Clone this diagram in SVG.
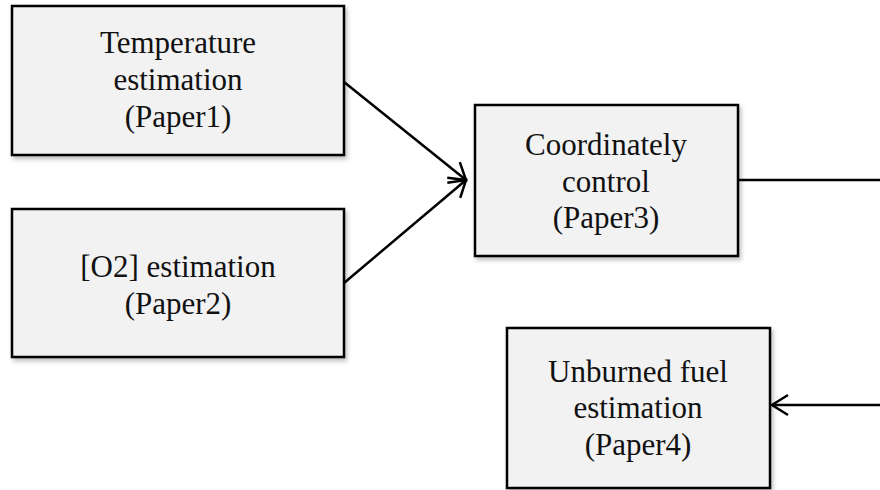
<svg xmlns="http://www.w3.org/2000/svg" width="880" height="490" viewBox="0 0 880 490">
<style>
.box{fill:#f2f2f2;stroke:#000;stroke-width:2.5;filter:url(#sh)}
.t{font-family:"Liberation Serif","Times New Roman",serif;font-size:31px;fill:#111;text-anchor:middle}
.c{fill:none;stroke:#000;stroke-width:2.5}
</style>
<defs>
<filter id="sh" x="-10%" y="-10%" width="130%" height="130%">
<feDropShadow dx="2" dy="3" stdDeviation="2" flood-color="#000" flood-opacity="0.25"/>
</filter>
<marker id="ah" markerUnits="userSpaceOnUse" markerWidth="24" markerHeight="24" viewBox="-20 -12 24 24" refX="0" refY="0" orient="auto">
<path d="M-16,-10 L0,0 L-16,10" fill="none" stroke="#000" stroke-width="2.5"/>
</marker>
</defs>
<g id="n1"><rect class="box" x="12" y="6" width="332" height="149"/>
<text class="t" x="178" y="53">Temperature</text><text class="t" x="178" y="90">estimation</text><text class="t" x="178" y="127">(Paper1)</text></g>
<g id="n2"><rect class="box" x="12" y="209" width="332" height="148"/>
<text class="t" x="178" y="277">[O2] estimation</text><text class="t" x="178" y="314">(Paper2)</text></g>
<g id="n3"><rect class="box" x="475" y="105" width="263" height="151"/>
<text class="t" x="606" y="155">Coordinately</text><text class="t" x="606" y="192">control</text><text class="t" x="606" y="228">(Paper3)</text></g>
<g id="n4"><rect class="box" x="507" y="328" width="263" height="160"/>
<text class="t" x="638" y="382">Unburned fuel</text><text class="t" x="638" y="418">estimation</text><text class="t" x="638" y="455">(Paper4)</text></g>
<g id="connectors">
<line class="c" x1="344" y1="82" x2="466" y2="180" marker-end="url(#ah)"/>
<line class="c" x1="344" y1="283" x2="466" y2="180" marker-end="url(#ah)"/>
<line class="c" x1="738" y1="180" x2="880" y2="180"/>
<line class="c" x1="880" y1="405" x2="772" y2="405" marker-end="url(#ah)"/>
</g>
</svg>
